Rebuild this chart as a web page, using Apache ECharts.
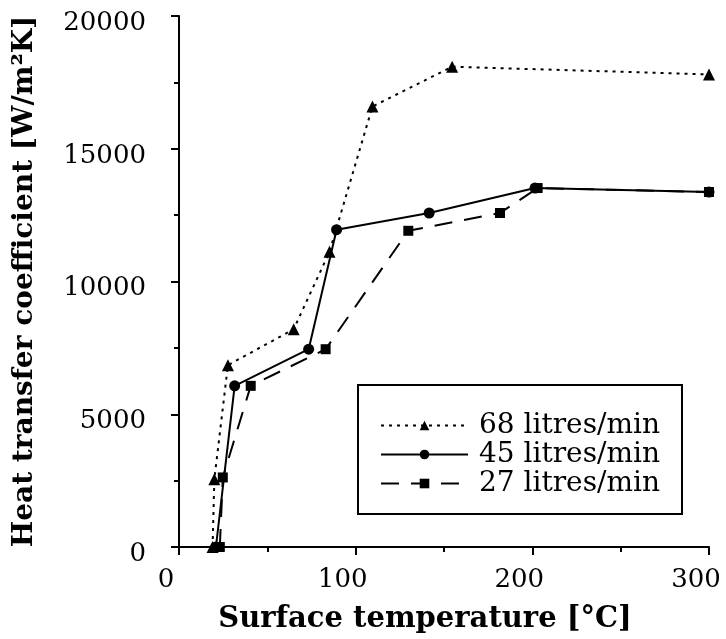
<!DOCTYPE html>
<html><head><meta charset="utf-8">
<script src="https://cdn.jsdelivr.net/npm/echarts@6/dist/echarts.min.js"></script>
<style>html,body{margin:0;padding:0;background:#fff}#c{width:726px;height:639px}</style>
</head><body><div id="c"></div>
<script>
const seriesNames = ['68 litres/min', '45 litres/min', '27 litres/min'];
const flow68 = [[19,0],[20,2550],[27.7,6850],[64.9,8200],[85.2,11120],[109.5,16590],[154.6,18090],[300,17800]];
const flow45 = [[20.9,0],[31.5,6070],[73.4,7450],[89.2,11950],[141.6,12580],[201.5,13520],[300,13370]];
const flow27 = [[23.1,0],[24.8,2620],[40.6,6070],[83,7450],[129.8,11910],[181.7,12580],[203,13520],[300,13370]];
const xTitle = 'Surface temperature [°C]';
const yTitle = 'Heat transfer coefficient [W/m²K]';

const serif = 'DejaVu Serif';
const chart = echarts.init(document.getElementById('c'), null, {renderer:'canvas'});
const mk = (name, data, symbol, size, type) => ({
  name, type:'line', data, symbol, symbolSize:size, animation:false, clip:false,
  itemStyle:{color:'#000'},
  lineStyle:{color:'#000', width:2, type}
});
chart.setOption({
  backgroundColor:'#fff',
  animation:false,
  grid:{left:179, right:17, top:16, bottom:89},
  xAxis:{
    type:'value', min:0, max:300, interval:100,
    name:xTitle, nameLocation:'middle', nameGap:58,
    nameTextStyle:{fontFamily:serif, fontWeight:'bold', fontSize:29, color:'#000', padding:[0,38,0,0]},
    axisLine:{show:true, lineStyle:{color:'#000', width:2}},
    axisTick:{show:true, length:8, lineStyle:{color:'#000', width:2}},
    minorTick:{show:true, splitNumber:2, length:5, lineStyle:{color:'#000', width:2}},
    splitLine:{show:false},
    axisLabel:{fontFamily:serif, fontSize:26, color:'#000', margin:20, padding:[0,26,0,0], formatter:v=>String(v)}
  },
  yAxis:{
    type:'value', min:0, max:20000, interval:5000,
    name:yTitle, nameLocation:'middle', nameGap:140, nameRotate:90,
    nameTextStyle:{fontFamily:serif, fontWeight:'bold', fontSize:28, color:'#000'},
    axisLine:{show:true, lineStyle:{color:'#000', width:2}},
    axisTick:{show:true, length:8, lineStyle:{color:'#000', width:2}},
    minorTick:{show:true, splitNumber:2, length:5, lineStyle:{color:'#000', width:2}},
    splitLine:{show:false},
    axisLabel:{fontFamily:serif, fontSize:26, color:'#000', margin:33, verticalAlign:'top', lineHeight:14, formatter:v=>String(v)}
  },
  legend:{
    orient:'vertical', left:358, top:385,
    data:seriesNames,
    padding:[26,22,16,22],
    borderColor:'#000', borderWidth:2, backgroundColor:'#fff',
    itemWidth:87, itemHeight:12, itemGap:0,
    textStyle:{fontFamily:serif, fontSize:28, lineHeight:29, color:'#000', padding:[0,0,0,6]}
  },
  series:[
    mk(seriesNames[0], flow68, 'triangle', 12, [3,5]),
    mk(seriesNames[1], flow45, 'circle', 11, 'solid'),
    mk(seriesNames[2], flow27, 'rect', 10, [18,12])
  ]
});
</script></body></html>
